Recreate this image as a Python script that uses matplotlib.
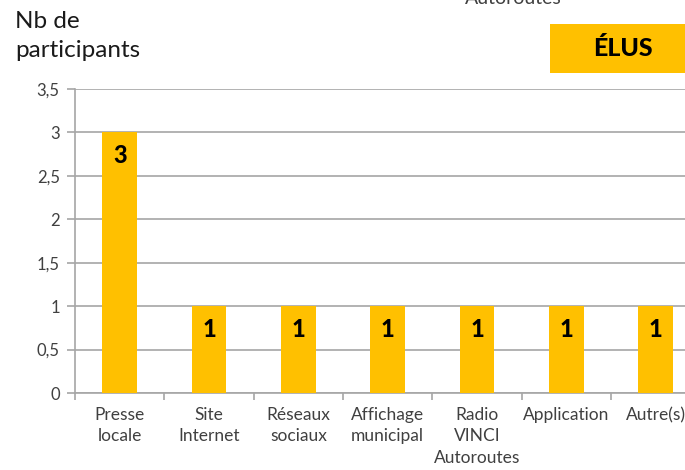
import matplotlib
matplotlib.use("Agg")
import matplotlib.pyplot as plt
import numpy as np
from matplotlib.patches import Rectangle

categories = ["Presse\nlocale", "Site\nInternet", "Réseaux\nsociaux", "Affichage\nmunicipal",
              "Radio\nVINCI\nAutoroutes", "Application", "Autre(s)"]
values = [3, 1, 1, 1, 1, 1, 1]
yticks = [0, 0.5, 1, 1.5, 2, 2.5, 3, 3.5]
ytick_labels = ["0", "0,5", "1", "1,5", "2", "2,5", "3", "3,5"]

plt.rcParams['font.family'] = ['Lato', 'DejaVu Sans']
bar_color = "#FFC000"
grid_color = "#A6A6A6"
text_color = "#404040"

fig = plt.figure(figsize=(6.85, 4.70), dpi=100)
ax = fig.add_axes([75/685, 1-393/470, 625.3/685, 304/470])

x = np.arange(len(categories))
ax.bar(x, values, width=0.39, color=bar_color, zorder=3)
ax.set_xlim(-0.5, len(categories) - 0.5)
ax.set_ylim(0, 3.5)

ax.set_yticks(yticks)
ax.set_yticklabels(ytick_labels, fontsize=12, color=text_color)
ax.yaxis.grid(True, color=grid_color, linewidth=1.2, zorder=0)
ax.tick_params(axis='y', length=6, width=1.2, color=grid_color, pad=5)

ax.set_xticks(x)
ax.set_xticklabels(categories, fontsize=12.5, color=text_color, linespacing=1.42, va='top')
ax.set_xticks(np.arange(len(categories) + 1) - 0.5, minor=True)
ax.tick_params(axis='x', which='major', length=0, pad=10)
ax.tick_params(axis='x', which='minor', length=5, width=1.2, color=grid_color)

for s in ['top', 'right']:
    ax.spines[s].set_visible(False)
for s in ['left', 'bottom']:
    ax.spines[s].set_color(grid_color)
    ax.spines[s].set_linewidth(1.2)

for xi, v in zip(x, values):
    ax.annotate(str(v), (xi, v), xytext=(0, -23), textcoords='offset pixels',
                ha='center', va='center', fontsize=17, fontweight='black', color='black', zorder=4)

fig.text(15/685, 1-36/470, "Nb de\nparticipants", fontsize=17.5, color='#1a1a1a',
         ha='left', va='center', linespacing=1.45)
fig.text(465/685, 1-4/470, "Autoroutes", fontsize=14, color=text_color, ha='left', va='baseline')

fig.patches.append(Rectangle((550/685, 1-73/470), 140/685, 49/470, transform=fig.transFigure,
                             facecolor=bar_color, edgecolor='none'))
fig.text(623/685, 1-48/470, "ÉLUS", fontsize=18, fontweight='black', color='black', ha='center', va='center')

fig.savefig("out.png", dpi=100)
